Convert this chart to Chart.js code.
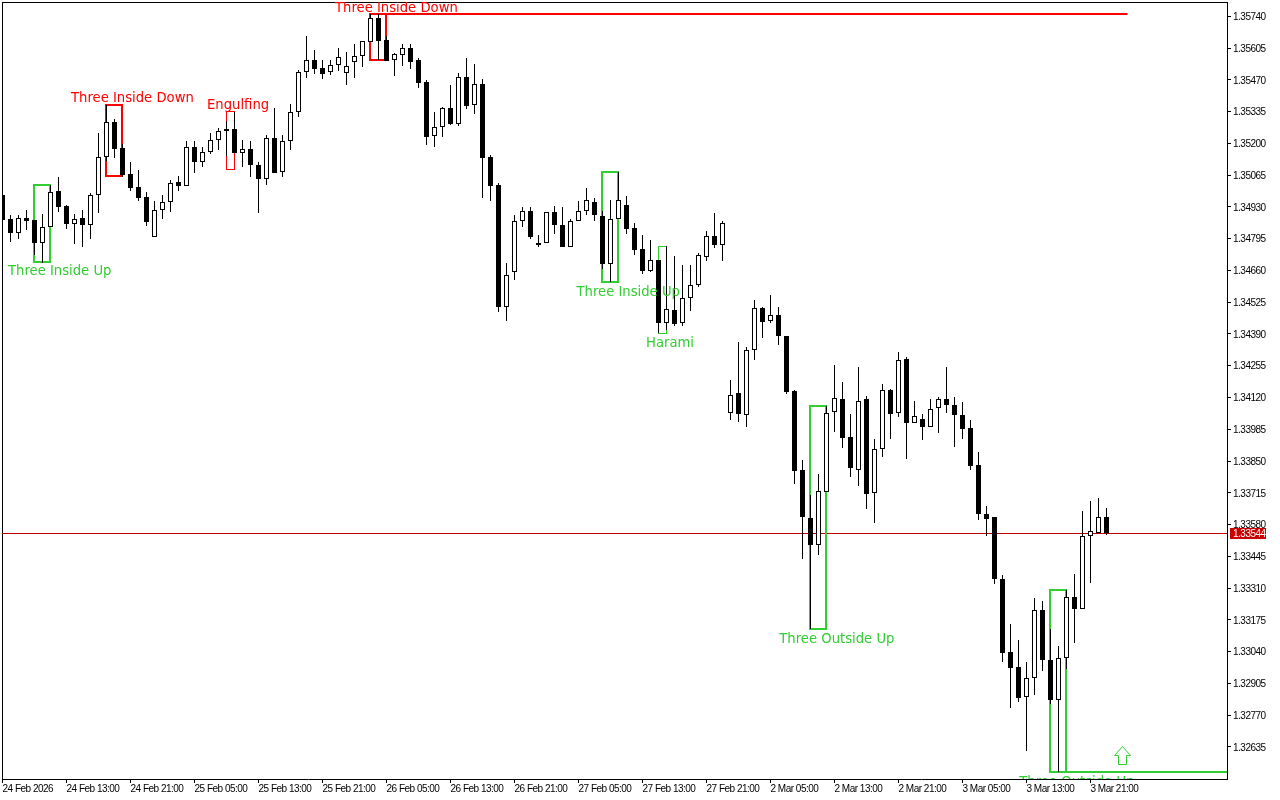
<!DOCTYPE html>
<html><head><meta charset="utf-8">
<style>html,body{margin:0;padding:0;background:#fff}canvas{display:block}</style>
<script src="https://cdn.jsdelivr.net/npm/chart.js@4"></script>
</head><body><canvas id="c" width="1280" height="800"></canvas>
<script>
const timeLabels=["24 Feb 2026","24 Feb 13:00","24 Feb 21:00","25 Feb 05:00","25 Feb 13:00","25 Feb 21:00","26 Feb 05:00","26 Feb 13:00","26 Feb 21:00","27 Feb 05:00","27 Feb 13:00","27 Feb 21:00","2 Mar 05:00","2 Mar 13:00","2 Mar 21:00","3 Mar 05:00","3 Mar 13:00","3 Mar 21:00"];
const priceTicks=[1.3574,1.35605,1.3547,1.35335,1.352,1.35065,1.3493,1.34795,1.3466,1.34525,1.3439,1.34255,1.3412,1.33985,1.3385,1.33715,1.3358,1.33445,1.3331,1.33175,1.3304,1.32905,1.3277,1.32635];
const currentPrice=1.33544;
const opens=[1.349805,1.348785,1.34819,1.3488275,1.3487425,1.347765,1.348445,1.349975,1.3493375,1.3485725,
1.3488275,1.34853,1.349805,1.35142,1.3529075,1.3518025,1.3506975,1.350145,1.34972,1.34802,
1.3491675,1.3495075,1.3503575,1.3501875,1.351845,1.3512075,1.3516325,1.3521425,1.35261,1.35261,
1.35159,1.35176,1.35108,1.350485,1.3522275,1.3507825,1.3521,1.3533325,1.3550325,1.3555425,
1.3552025,1.3550325,1.35533,1.35499,1.3554575,1.3557125,1.3563075,1.3573275,1.3563925,1.3555425,
1.355755,1.3560525,1.3555425,1.3546075,1.3523125,1.352695,1.3535025,1.3528225,1.35482,1.35363,
1.3545225,1.35142,1.35023,1.345045,1.3465325,1.3487,1.349125,1.347765,1.347765,1.3490825,
1.34853,1.347595,1.3487,1.349125,1.3495075,1.3489125,1.3468725,1.348785,1.34938,1.3484025,
1.34751,1.346575,1.3470425,1.344365,1.3449175,1.344365,1.3454275,1.34598,1.34717,1.3480625,
1.34768,1.34054,1.34139,1.340455,1.3432175,1.3450025,1.34445,1.344705,1.3438125,1.341475,
1.3381175,1.3360775,1.33493,1.3371825,1.3405825,1.341135,1.33952,1.3381175,1.341135,1.33714,
1.33901,1.3415175,1.34054,1.342835,1.340115,1.340285,1.339945,1.3407525,1.341135,1.34088,
1.340455,1.3399025,1.33833,1.3362475,1.33612,1.333485,1.3303825,1.329745,1.32847,1.3292775,
1.3321675,1.3300425,1.3283425,1.3301275,1.33272,1.33221,1.3353125,1.33544,1.33612];
const highs=[1.349805,1.348955,1.348955,1.3491675,1.3487425,1.3489975,1.35023,1.35057,1.34938,1.3489975,
1.3491675,1.34989,1.35244,1.35363,1.353035,1.3519725,1.3512075,1.3508675,1.3499325,1.34955,
1.349805,1.3504425,1.3506125,1.3521,1.3521,1.351845,1.35244,1.3526525,1.35295,1.3533325,
1.3521425,1.3521,1.3512075,1.352355,1.3535025,1.352355,1.3536725,1.3551175,1.3565625,1.3559675,
1.3555425,1.3555425,1.3560525,1.3558825,1.3562225,1.35635,1.3574975,1.3574975,1.3565625,1.35584,
1.3562225,1.3562225,1.3556275,1.3546925,1.3533325,1.353545,1.35448,1.35499,1.3556275,1.3553725,
1.354735,1.351505,1.350315,1.346915,1.3489550,1.349295,1.349295,1.3481050,1.3490825,1.3493375,
1.349295,1.3487850,1.34955,1.3501025,1.3496775,1.349125,1.3495925,1.3507825,1.3497625,1.348615,
1.348105,1.3478925,1.3470425,1.3476375,1.3472125,1.34683,1.34683,1.34734,1.348275,1.34904,
1.3487,1.3419425,1.3435575,1.343345,1.3453425,1.345045,1.345555,1.345045,1.3438125,1.3415175,
1.3385425,1.337055,1.3379475,1.3408375,1.34258,1.3418575,1.3404975,1.342495,1.3412625,1.339435,
1.3417725,1.34156,1.3431325,1.34292,1.34105,1.3404975,1.341135,1.34122,1.342495,1.34122,
1.3410075,1.3402425,1.3388825,1.3365875,1.33612,1.333655,1.3315725,1.3308925,1.3299575,1.3326775,
1.33255,1.33136,1.3306375,1.3330175,1.3336975,1.336375,1.3368,1.3369275,1.3365025];
const lows=[1.3487425,1.3478075,1.347935,1.3483175,1.347255,1.346915,1.348445,1.3490825,1.34836,1.3477225,
1.347595,1.347935,1.34904,1.35125,1.3513775,1.35057,1.349975,1.34955,1.3484875,1.34802,
1.348785,1.3490825,1.349975,1.3501875,1.35074,1.350995,1.3515475,1.3517175,1.3514625,1.35159,
1.350995,1.35057,1.34904,1.35023,1.35074,1.35057,1.3517175,1.35312,1.3547775,1.3549475,
1.354735,1.354905,1.355075,1.35448,1.3547775,1.355245,1.3563075,1.3555425,1.3555,1.3548625,
1.3552875,1.35516,1.3543525,1.35193,1.351845,1.35227,1.35278,1.3527375,1.35346,1.3532475,
1.3496775,1.34955,1.3448325,1.34445,1.3461925,1.348445,1.347935,1.347595,1.347765,1.3481475,
1.347595,1.347595,1.3487,1.348955,1.3487,1.34666,1.3461075,1.348785,1.3481475,1.347255,
1.3464475,1.3465325,1.34394,1.3440675,1.3442375,1.3442375,1.344875,1.345895,1.347,1.3475525,
1.347,1.3402425,1.3401575,1.339945,1.3427925,1.3437275,1.344365,1.34343,1.3413475,1.3375225,
1.334335,1.33136,1.334505,1.3371825,1.3397325,1.3390525,1.33782,1.3374375,1.33646,1.335865,
1.33867,1.3394350,1.34037,1.338585,1.340115,1.3393925,1.339945,1.33969,1.34054,1.339095,
1.339435,1.3381175,1.3359925,1.3353125,1.3332725,1.3299575,1.3280025,1.3282575,1.326175,1.328555,
1.329575,1.3281725,1.3252825,1.32966,1.330765,1.33221,1.333315,1.33544,1.335355];
const closes=[1.3487425,1.34819,1.3488275,1.3487,1.347765,1.348445,1.3499325,1.3492950,1.3485725,1.348785,
1.34853,1.349805,1.35142,1.3529075,1.35176,1.350655,1.3501025,1.3496775,1.3486575,1.3491675,
1.3495075,1.350315,1.3501875,1.351845,1.3512075,1.3516325,1.3521425,1.352525,1.352525,1.35159,
1.35176,1.35108,1.350485,1.3522275,1.35074,1.3521,1.3533325,1.3550325,1.3555425,1.35516,
1.3549475,1.35533,1.35567,1.3552875,1.3557125,1.35635,1.3573275,1.35635,1.3555,1.3557975,
1.3560525,1.3554575,1.354565,1.35227,1.352695,1.3535025,1.3528225,1.35482,1.3535875,1.3545225,
1.3513775,1.3501875,1.345045,1.346405,1.3487,1.349125,1.34802,1.34768,1.3490825,1.34853,
1.347595,1.3487,1.349125,1.3495925,1.3489550,1.3468725,1.348785,1.3495925,1.34836,1.3474675,
1.346575,1.3470425,1.344365,1.34496,1.3443225,1.3454275,1.34598,1.347255,1.3480625,1.34768,
1.348615,1.341305,1.3404975,1.3432175,1.3450025,1.3444075,1.344705,1.3438125,1.3414325,1.338075,
1.33612,1.33493,1.337225,1.34054,1.3411775,1.3394775,1.3382025,1.34105,1.3370975,1.33901,
1.3415175,1.3404975,1.3427925,1.340115,1.3404125,1.339945,1.34071,1.3411350,1.34088,1.340455,
1.33986,1.3382875,1.3362475,1.336035,1.333485,1.33034,1.3297025,1.3284275,1.3292775,1.3321675,
1.3300425,1.3283425,1.3301275,1.33272,1.33221,1.3353125,1.335525,1.33612,1.33544];
const patternNames=["Three Inside Up","Three Inside Down","Engulfing","Three Inside Down","Three Inside Up","Harami","Three Outside Up","Three Outside Up"];
const patternFrom=[4,13,28,46,75,82,101,131];
const patternTo=[6,15,29,48,77,83,103,133];
const patternHigh=[1.35023,1.35363,1.353375,1.3574975,1.3507825,1.3476375,1.3408375,1.3330175];
const patternLow=[1.3469575,1.3506125,1.35091,1.3555425,1.3461075,1.34394,1.33136,1.3252825];
const patternStroke=[2,2,1,2,2,1,2,2];
const patternBullish=[true,false,false,false,true,true,true,true];
const patternExtendTo=[null,null,null,140.625,null,null,null,160];
const labelIndex=[0.6875,8.5625,25.5625,41.5625,71.75,80.4375,97.1,127.1];
const labelPrice=[1.3465535,1.353906,1.3536085,1.357731,1.345661,1.3434935,1.3309135,1.324836];
const arrowIndex=140;
const arrowPrice=1.326345;

const GREEN='#32CD32',RED='#FF0000',TICKFONT='10px "Liberation Sans"';
const idx=opens.map((_,i)=>i);
const nudgeLabels=(s,dy)=>{
 const draw=s.drawLabels;
 if(s._nudged)return;
 s._nudged=true;
 s.drawLabels=function(a){const c=this.ctx;c.save();c.translate(0,dy);draw.call(this,a);c.restore();};
};
const candles={
 id:'candles',
 beforeDraw(chart){chart.ctx.letterSpacing='-0.5px';},
 beforeDatasetsDraw(chart){
  const {ctx,chartArea:a,scales:{x,y}}=chart;
  ctx.save();
  // frame: top and left edges
  ctx.fillStyle='#000';ctx.fillRect(2,2,a.right-2,1);ctx.fillRect(2,2,1,a.bottom-2);
  ctx.beginPath();ctx.rect(a.left,a.top,a.right-a.left,a.bottom-a.top);ctx.clip();
  // current price line
  ctx.fillStyle='#C00000';
  ctx.fillRect(a.left,Math.floor(y.getPixelForValue(currentPrice)+0.01),a.right-a.left,1);
  // pattern frames
  patternNames.forEach((_,k)=>{
   const w=patternStroke[k];
   const snap=v=>w%2?Math.floor(v+0.01)+0.5:Math.round(v);
   const l=snap(x.getPixelForValue(patternFrom[k])-(w%2?0:0.5)),r=snap(x.getPixelForValue(patternTo[k])-(w%2?0:0.5));
   const t=snap(y.getPixelForValue(patternHigh[k])),b=snap(y.getPixelForValue(patternLow[k]));
   ctx.strokeStyle=patternBullish[k]?GREEN:RED;ctx.lineWidth=w;
   ctx.strokeRect(l,t,r-l,b-t);
   if(patternExtendTo[k]!==null){
    const ly=patternBullish[k]?b:t;
    ctx.beginPath();ctx.moveTo(r,ly);ctx.lineTo(x.getPixelForValue(patternExtendTo[k]),ly);ctx.stroke();
   }
  });
  ctx.restore();
 },
 afterDatasetsDraw(chart){
  const {ctx,chartArea:a,scales:{x,y}}=chart;
  ctx.save();
  ctx.beginPath();ctx.rect(a.left,a.top,a.right-a.left,a.bottom-a.top);ctx.clip();
  ctx.letterSpacing='0px';
  ctx.font='13.2px "DejaVu Sans"';ctx.textAlign='left';ctx.textBaseline='middle';
  patternNames.forEach((n,k)=>{
   ctx.fillStyle=patternBullish[k]?GREEN:RED;
   ctx.fillText(n,x.getPixelForValue(labelIndex[k]),y.getPixelForValue(labelPrice[k]));
  });
  // up arrow marker
  const ax=Math.floor(x.getPixelForValue(arrowIndex))+0.5,ay=Math.floor(y.getPixelForValue(arrowPrice))+0.5;
  ctx.beginPath();
  ctx.moveTo(ax,ay);ctx.lineTo(ax+8,ay+9);ctx.lineTo(ax+4,ay+9);ctx.lineTo(ax+4,ay+18);
  ctx.lineTo(ax-4,ay+18);ctx.lineTo(ax-4,ay+9);ctx.lineTo(ax-8,ay+9);ctx.closePath();
  ctx.fillStyle='#fff';ctx.fill();ctx.strokeStyle=GREEN;ctx.lineWidth=1;ctx.stroke();
  ctx.restore();
 },
 afterDraw(chart){
  const {ctx,scales:{y}}=chart;
  const py=Math.floor(y.getPixelForValue(currentPrice)+0.01);
  ctx.save();
  ctx.fillStyle='#C80000';ctx.fillRect(1230,py-5,36,11);
  ctx.fillStyle='#fff';ctx.font=TICKFONT;ctx.textAlign='left';ctx.textBaseline='middle';
  ctx.fillText(currentPrice.toFixed(5),1233,py+1);
  ctx.restore();
 }
};
new Chart(document.getElementById('c'),{
 type:'bar',
 plugins:[candles],
 data:{datasets:[
  {label:'range',data:idx.map(i=>({x:i,y:[lows[i],highs[i]]})),grouped:false,barThickness:1,
   backgroundColor:'#000',borderWidth:0,inflateAmount:0,order:2},
  {label:'body',data:idx.map(i=>({x:i,y:[opens[i],closes[i]]})),grouped:false,barThickness:5,
   backgroundColor:c=>closes[c.dataIndex]>=opens[c.dataIndex]?'#fff':'#000',
   borderColor:'#000',borderWidth:1,borderSkipped:false,inflateAmount:0,order:1}
 ]},
 options:{
  responsive:false,animation:false,events:[],
  layout:{padding:{left:2,top:2,right:0,bottom:0}},
  plugins:{legend:{display:false},tooltip:{enabled:false},title:{display:false}},
  scales:{
   x:{type:'linear',offset:false,min:-0.0625,max:153.0625,
    afterFit:s=>{s.height=21;s.paddingLeft=0;s.paddingRight=0;},
    afterBuildTicks:s=>{s.ticks=timeLabels.map((_,i)=>({value:i*8}));},
    grid:{drawOnChartArea:false,drawTicks:true,tickLength:4,tickColor:'#000',offset:false},
    border:{display:true,color:'#000',width:1},
    ticks:{autoSkip:false,maxRotation:0,minRotation:0,align:'start',padding:0,color:'#000',
     font:{family:'"Liberation Sans"',size:10},
     callback:(v)=>timeLabels[Math.round(v/8)]}},
   y:{type:'linear',position:'right',min:1.324985,max:1.3580075,
    afterFit:s=>{s.width=53;s.paddingTop=0;s.paddingBottom=0;nudgeLabels(s,1);},
    afterBuildTicks:s=>{s.ticks=priceTicks.map(v=>({value:v}));},
    grid:{drawOnChartArea:false,drawTicks:true,tickLength:4,tickColor:'#000'},
    border:{display:true,color:'#000',width:1},
    ticks:{autoSkip:false,padding:2,color:'#000',
     font:{family:'"Liberation Sans"',size:10},
     callback:v=>v.toFixed(5)}}
  }
 }
});
</script></body></html>
